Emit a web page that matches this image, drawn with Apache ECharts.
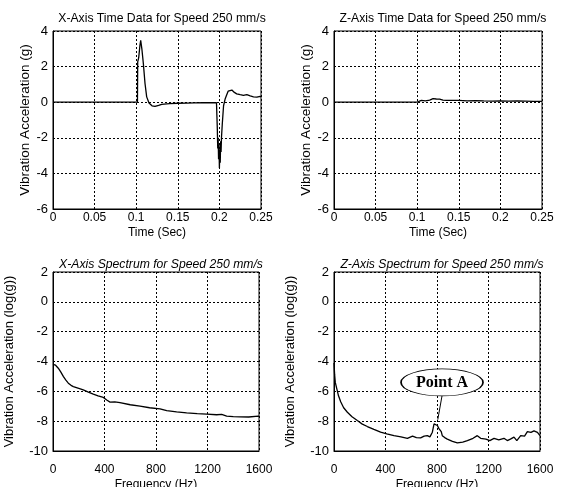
<!DOCTYPE html>
<html><head><meta charset="utf-8">
<script src="https://cdn.jsdelivr.net/npm/echarts@6/dist/echarts.min.js"></script>
<style>html,body{margin:0;padding:0;background:#fff}#c{width:562px;height:487px}</style>
</head><body><div id="c"></div>
<script>
// ---- Data ----
const titles = [
  "X-Axis Time Data for Speed 250 mm/s",
  "Z-Axis Time Data for Speed 250 mm/s",
  "X-Axis Spectrum for Speed 250 mm/s",
  "Z-Axis Spectrum for Speed 250 mm/s"
];
const xTimeT = [0, 0.1015, 0.1018, 0.1030, 0.1045, 0.1054, 0.1068, 0.1086, 0.1106, 0.1126, 0.1154, 0.119, 0.1226, 0.127, 0.1306, 0.14, 0.15, 0.16, 0.17, 0.18, 0.19, 0.1965, 0.1975, 0.198, 0.1985, 0.199, 0.1995, 0.2, 0.2005, 0.201, 0.2015, 0.202, 0.2025, 0.203, 0.2035, 0.205, 0.207, 0.2087, 0.2105, 0.2127, 0.215, 0.218, 0.2208, 0.225, 0.2288, 0.233, 0.237, 0.241, 0.245, 0.249, 0.25];
const xTimeV = [0, 0, 2.26, 2.5, 3.2, 3.48, 3.0, 2.17, 1.05, 0.3, -0.04, -0.2, -0.24, -0.18, -0.12, -0.08, -0.06, -0.05, -0.04, -0.03, -0.03, -0.03, -1.5, -2.6, -2.0, -3.2, -2.4, -3.7, -2.7, -3.4, -2.2, -2.8, -2.0, -1.9, -1.2, -0.2, 0.2, 0.4, 0.62, 0.72, 0.68, 0.55, 0.47, 0.42, 0.38, 0.42, 0.35, 0.3, 0.28, 0.33, 0.3];
const zTimeT = [0, 0.1, 0.102, 0.105, 0.11, 0.115, 0.119, 0.123, 0.127, 0.131, 0.135, 0.14, 0.15, 0.16, 0.17, 0.18, 0.19, 0.2, 0.21, 0.22, 0.23, 0.24, 0.25];
const zTimeV = [0, 0, 0.06, 0.1, 0.08, 0.12, 0.2, 0.18, 0.17, 0.12, 0.1, 0.1, 0.1, 0.08, 0.09, 0.07, 0.06, 0.08, 0.06, 0.07, 0.06, 0.05, 0.05];
const xSpecF = [0, 20, 41, 60, 80, 100, 119, 140, 158, 200, 235, 275, 313, 350, 391, 420, 443, 480, 520, 600, 676, 750, 831, 883, 960, 1038, 1120, 1194, 1271, 1310, 1349, 1400, 1452, 1520, 1594, 1600];
const xSpecV = [-4.2, -4.25, -4.45, -4.7, -5.0, -5.25, -5.45, -5.6, -5.68, -5.8, -5.9, -6.05, -6.19, -6.3, -6.41, -6.6, -6.72, -6.7, -6.76, -6.9, -6.99, -7.1, -7.17, -7.3, -7.38, -7.44, -7.5, -7.53, -7.57, -7.55, -7.66, -7.7, -7.71, -7.72, -7.66, -7.68];
const zSpecF = [0, 5, 10, 21, 35, 52, 75, 104, 140, 181, 220, 259, 310, 362, 410, 466, 520, 570, 610, 640, 673, 700, 725, 745, 764, 777, 790, 803, 815, 823, 833, 841, 860, 880, 920, 958, 1000, 1036, 1080, 1113, 1139, 1180, 1210, 1243, 1280, 1320, 1346, 1370, 1398, 1420, 1450, 1480, 1502, 1530, 1553, 1580, 1600];
const zSpecV = [-4.1, -4.9, -5.4, -5.8, -6.3, -6.7, -7.1, -7.4, -7.7, -7.96, -8.2, -8.36, -8.55, -8.74, -8.85, -8.97, -9.05, -9.15, -9.0, -9.1, -9.12, -9.0, -8.97, -9.05, -8.74, -8.18, -8.3, -8.29, -8.5, -8.4, -8.7, -8.97, -9.1, -9.2, -9.35, -9.46, -9.4, -9.3, -9.15, -8.97, -9.15, -9.2, -9.3, -9.15, -9.25, -9.15, -9.3, -9.2, -9.07, -9.3, -8.97, -9.0, -8.7, -8.75, -8.65, -8.75, -8.97];
const pointALabel = "Point A";
const pointACenter = [839, -5.4];
const pointALeader = [[839, -6.3], [806, -7.9]];

// ---- Chart ----
const font = "'Liberation Sans', Arial, sans-serif";
const zip = (a, b) => a.map((x, i) => [x, b[i]]);
const grids = [
  {left: 53, top: 31, width: 208, height: 178},
  {left: 334, top: 31, width: 208, height: 178},
  {left: 53, top: 272, width: 206, height: 179},
  {left: 334, top: 272, width: 206, height: 179}
].map(g => Object.assign({show: true, borderColor: '#000', borderWidth: 1, backgroundColor: 'transparent',
  containLabel: false, outerBoundsMode: 'none'}, g));

const gridLine = {show: true, lineStyle: {color: '#000', type: [2, 2], width: 1}};
function xAx(i, time) {
  return {
    type: 'value', gridIndex: i,
    min: 0, max: time ? 0.25 : 1600, interval: time ? 0.05 : 400,
    name: time ? 'Time (Sec)' : 'Frequency (Hz)', nameLocation: 'middle', nameGap: time ? 18 : 28,
    nameTextStyle: {color: '#000', fontFamily: font, fontSize: 12},
    axisLine: {show: true, onZero: false, lineStyle: {color: '#000', width: 1}},
    axisTick: {show: false},
    axisLabel: {color: '#000', fontFamily: font, fontSize: 12, margin: time ? 3 : 13,
      formatter: v => String(+v.toFixed(2))},
    splitLine: gridLine
  };
}
function yAx(i, time) {
  return {
    type: 'value', gridIndex: i,
    min: time ? -6 : -10, max: time ? 4 : 2, interval: 2,
    name: time ? 'Vibration Acceleration (g)' : 'Vibration Acceleration (log(g))',
    nameLocation: 'middle', nameGap: time ? 20 : 37, nameRotate: 90,
    nameTextStyle: {color: '#000', fontFamily: font, fontSize: time ? 13.5 : 13},
    axisLine: {show: true, onZero: false, lineStyle: {color: '#000', width: 1}},
    axisTick: {show: false},
    axisLabel: {color: '#000', fontFamily: font, fontSize: 13, margin: 5},
    splitLine: gridLine
  };
}
const lineS = (i, d) => ({
  type: 'line', xAxisIndex: i, yAxisIndex: i, data: d, showSymbol: false, symbol: 'none',
  lineStyle: {color: '#000', width: 1.3}, animation: false, silent: true
});

const zSpec = lineS(3, zip(zSpecF, zSpecV));
zSpec.markPoint = {
  silent: true, animation: false,
  symbol: 'path://M0,50 A50,50 0 1 1 100,50 A50,50 0 1 1 0,50 Z',
  symbolSize: [82, 27],
  itemStyle: {color: '#fff', borderColor: '#000', borderWidth: 1},
  label: {show: true, position: 'inside', formatter: pointALabel, color: '#000',
    fontFamily: "'Liberation Serif', 'Times New Roman', serif", fontWeight: 'bold', fontSize: 16},
  data: [{coord: pointACenter}]
};
zSpec.markLine = {
  silent: true, animation: false, symbol: 'none',
  lineStyle: {color: '#000', width: 1, type: 'solid'},
  label: {show: false},
  data: [[{coord: pointALeader[0]}, {coord: pointALeader[1]}]]
};

const titleCenters = [157, 438, 156, 437];
const titleTops = [8, 8, 254, 254];
const option = {
  animation: false,
  backgroundColor: '#fff',
  title: titles.map((t, i) => ({
    text: t, left: titleCenters[i], top: titleTops[i], textAlign: 'center',
    textStyle: {color: '#000', fontFamily: font, fontSize: 12.2, fontWeight: 'normal',
      fontStyle: i >= 2 ? 'italic' : 'normal'}
  })),
  grid: grids,
  xAxis: [xAx(0, true), xAx(1, true), xAx(2, false), xAx(3, false)],
  yAxis: [yAx(0, true), yAx(1, true), yAx(2, false), yAx(3, false)],
  series: [
    lineS(0, zip(xTimeT, xTimeV)),
    lineS(1, zip(zTimeT, zTimeV)),
    lineS(2, zip(xSpecF, xSpecV)),
    zSpec
  ]
};
const chart = echarts.init(document.getElementById('c'), null, {renderer: 'canvas'});
chart.setOption(option);
</script></body></html>
